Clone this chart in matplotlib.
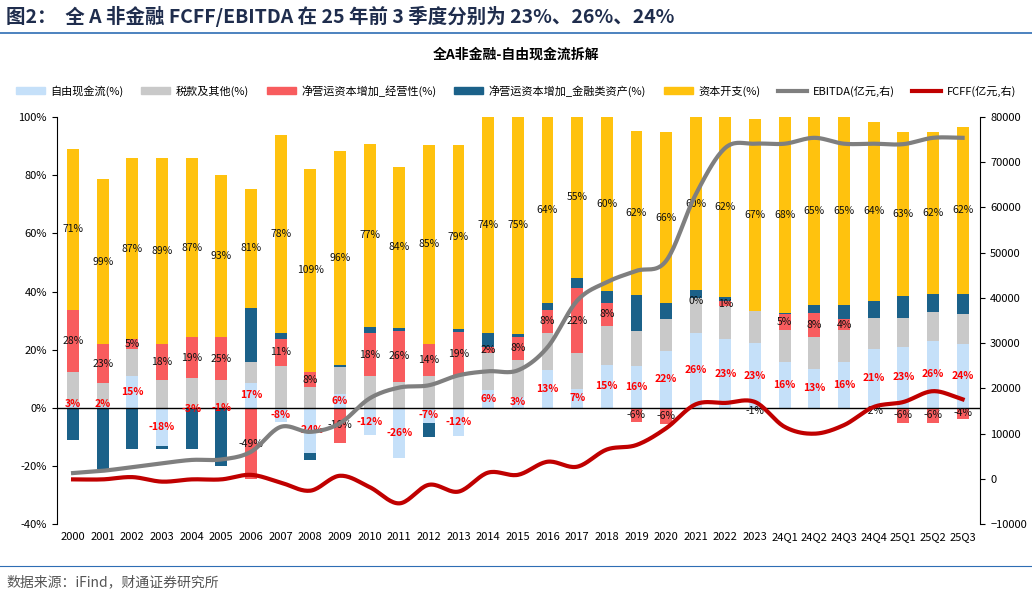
import numpy as np
import matplotlib
matplotlib.use("Agg")
import matplotlib.pyplot as plt
from matplotlib.lines import Line2D
from matplotlib.patches import Patch

plt.rcParams['font.family'] = ['Noto Sans CJK SC', 'DejaVu Sans']

cats = ["2000","2001","2002","2003","2004","2005","2006","2007","2008","2009","2010","2011","2012","2013","2014","2015","2016","2017","2018","2019","2020","2021","2022","2023","24Q1","24Q2","24Q3","24Q4","25Q1","25Q2","25Q3"]
# bar segment heights (% , as drawn)
fcf   = [1, 0.5, 11.1, -13.2, -0.5, -0.3, 8.6, -5, -15.5, 4.8, -9.4, -17.2, -5.2, -9.7, 6.0, 3.7, 12.9, 6.6, 14.8, 14.5, 19.7, 25.8, 23.5, 22.2, 15.9, 13.4, 15.9, 20.3, 21.0, 23.0, 21.8]
tax   = [11.3, 7.9, 9.2, 9.4, 10.3, 9.4, 7.2, 14.3, 7.0, 9.2, 10.8, 9.0, 10.8, 10.8, 12.9, 12.8, 12.9, 12.1, 13.5, 12.0, 10.9, 11.9, 11.5, 11.1, 11.0, 10.8, 11.0, 10.6, 9.9, 10.1, 10.5]
nwc   = [21.5, 13.4, 3.2, 12.7, 13.9, 14.9, -24.6, 9.5, 5.3, -12, 14.9, 17.5, 11.3, 15.3, 2.1, 7.9, 8.0, 22.5, 7.6, -4.9, -5.4, 0, 1.7, -0.5, 5.2, 8.4, 3.5, -0.5, -5.2, -5.2, -3.8]
fin   = [-11, -21, -14.3, -0.9, -13.8, -19.7, 18.4, 2.0, -2.5, 0.7, 2.2, 1.0, -4.8, 1.0, 4.8, 1.1, 2.1, 3.5, 4.4, 12.4, 5.3, 2.7, 1.4, 0, 0.4, 2.6, 4.8, 6.0, 7.7, 6.2, 7.0]
capex = [55.2, 57.0, 62.4, 63.8, 61.6, 55.9, 41.2, 67.9, 69.9, 73.5, 62.9, 55.4, 68.2, 63.4, 74.2, 74.5, 64.1, 55.3, 59.7, 56.4, 58.9, 59.6, 61.9, 66.0, 67.5, 64.8, 64.8, 61.3, 56.4, 55.7, 57.3]
# data labels (%)
fcf_lab   = [3,2,15,-18,-3,-1,17,-8,-24,6,-12,-26,-7,-12,6,3,13,7,15,16,22,26,23,23,16,13,16,21,23,26,24]
nwc_lab   = [28,23,5,18,19,25,-49,11,8,-16,18,26,14,19,2,8,8,22,8,-6,-6,0,1,-1,5,8,4,-2,-6,-6,-4]
capex_lab = [71,99,87,89,87,93,81,78,109,96,77,84,85,79,74,75,64,55,60,62,66,60,62,67,68,65,65,64,63,62,62]
# lines (亿元, right axis)
ebitda = [1300,1800,2600,3450,4200,4300,6000,11500,10400,12300,17800,20200,20700,22900,23800,24000,29100,39400,43500,46000,48200,62900,73200,74100,74100,75400,74100,74100,74000,75400,75400]
fcff   = [-100,-100,400,-600,-100,-100,900,-800,-2600,700,-1800,-5400,-1300,-2800,1400,900,3800,2700,6500,7500,11200,16500,16800,17000,11500,10000,11900,15900,17000,19400,17600]

names = ["自由现金流(%)", "税款及其他(%)", "净营运资本增加_经营性(%)", "净营运资本增加_金融类资产(%)", "资本开支(%)"]
colors = ["#C5E0F9", "#C9C9C9", "#F85C5E", "#1B6189", "#FFC20E"]
series = [fcf, tax, nwc, fin, capex]

fig = plt.figure(figsize=(10.32, 5.97), dpi=100)
ax = fig.add_axes([0.055, 0.122, 0.895, 0.682])
x = np.arange(len(cats))
w = 0.4
pos_b = np.zeros(len(x)); neg_b = np.zeros(len(x))
mids = []
for vals, c in zip(series, colors):
    v = np.array(vals, float)
    b = np.where(v >= 0, pos_b, neg_b)
    ax.bar(x, v, w, bottom=b, color=c, zorder=2)
    mids.append(b + v / 2)
    pos_b = pos_b + np.where(v >= 0, v, 0)
    neg_b = neg_b + np.where(v < 0, v, 0)

for i in x:
    ax.text(i, max(mids[0][i], 1.2) if fcf[i] >= 0 else mids[0][i], f"{fcf_lab[i]}%", ha='center', va='center', fontsize=7.5, color='#FF0000', fontweight='bold', zorder=5)
    ax.text(i, mids[2][i] if abs(nwc[i]) > 1 else mids[2][i] + (2 if nwc_lab[i] > 0 else -1), f"{nwc_lab[i]}%", ha='center', va='center', fontsize=7.5, color='#111111', zorder=5)
    ax.text(i, mids[4][i], f"{capex_lab[i]}%", ha='center', va='center', fontsize=7.5, color='#111111', zorder=5)

ax.axhline(0, color='black', lw=1, zorder=3)
ax.set_ylim(-40, 100)
ax.set_xlim(-0.55, 30.6)
ax.set_yticks(range(-40, 101, 20))
ax.set_yticklabels([f"{t}%" for t in range(-40, 101, 20)], fontsize=8)
ax.set_xticks(x)
ax.set_xticklabels(cats, fontsize=8)
ax.tick_params(axis='x', length=0, pad=6)
for s in ['top', 'right', 'bottom']:
    ax.spines[s].set_visible(False)

def smooth(xs, ys, n=20):
    xs = np.asarray(xs, float); ys = np.asarray(ys, float)
    P = np.concatenate([[2*ys[0]-ys[1]], ys, [2*ys[-1]-ys[-2]]])
    ox, oy = [], []
    for k in range(len(ys) - 1):
        t = np.linspace(0, 1, n, endpoint=False)
        p0, p1, p2, p3 = P[k], P[k+1], P[k+2], P[k+3]
        oy.append(0.5*((2*p1) + (-p0+p2)*t + (2*p0-5*p1+4*p2-p3)*t**2 + (-p0+3*p1-3*p2+p3)*t**3))
        ox.append(xs[k] + t)
    ox.append([xs[-1]]); oy.append([ys[-1]])
    return np.concatenate(ox), np.concatenate(oy)

ax2 = ax.twinx()
ax2.set_ylim(-10000, 80000)
ax2.set_yticks(range(-10000, 80001, 10000))
ax2.tick_params(axis='y', labelsize=8)
for s in ['top', 'left', 'bottom']:
    ax2.spines[s].set_visible(False)
sx, sy = smooth(x, ebitda)
ax2.plot(sx, sy, color='#7F7F7F', lw=3, zorder=4)
sx, sy = smooth(x, fcff)
ax2.plot(sx, sy, color='#C00000', lw=3, zorder=4)

handles = [Patch(color=c) for c in colors] + [Line2D([], [], color='#7F7F7F', lw=3), Line2D([], [], color='#C00000', lw=3)]
labels = names + ["EBITDA(亿元,右)", "FCFF(亿元,右)"]
fig.legend(handles, labels, loc='center', bbox_to_anchor=(0.5, 0.848), ncol=7, frameon=False, fontsize=8,
           handlelength=2.6, handleheight=0.5, columnspacing=1.6, handletextpad=0.5)

fig.text(0.006, 0.972, "图2：  全 A 非金融 FCFF/EBITDA 在 25 年前 3 季度分别为 23%、26%、24%", fontsize=14, fontweight='bold', color='#1F2D4D', va='center')
fig.add_artist(Line2D([0, 1], [0.945, 0.945], color='#2E6DB4', lw=1.2))
fig.text(0.5, 0.908, "全A非金融-自由现金流拆解", fontsize=10, fontweight='bold', ha='center', va='center')
fig.add_artist(Line2D([0, 1], [0.052, 0.052], color='#2E6DB4', lw=0.8))
fig.text(0.006, 0.025, "数据来源：iFind，财通证券研究所", fontsize=10, color='#555555', va='center')

fig.savefig("out.png", dpi=100)
